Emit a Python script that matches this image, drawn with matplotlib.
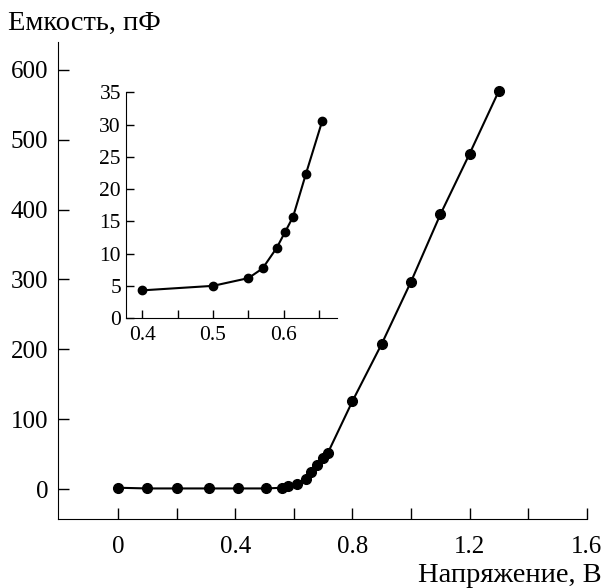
import numpy as np
import matplotlib.pyplot as plt

plt.rcParams['font.family'] = ['Liberation Serif', 'DejaVu Serif']

# main curve: voltage (V) vs capacitance (pF)
volt = [0.0, 0.1, 0.2, 0.31, 0.41, 0.505, 0.56, 0.58, 0.61, 0.64, 0.66, 0.68, 0.70, 0.715,
        0.8, 0.9, 1.0, 1.1, 1.2, 1.3]
cap = [2, 1, 1, 1, 1, 1, 2, 4, 8, 15, 24, 34, 44, 51,
       126, 208, 297, 393, 480, 570]

# inset: low-voltage region
volt_in = [0.4, 0.5, 0.55, 0.57, 0.59, 0.602, 0.613, 0.631, 0.654]
cap_in = [4.3, 5.0, 6.2, 7.7, 10.9, 13.4, 15.7, 22.3, 30.5]

fig = plt.figure(figsize=(6.05, 5.88), dpi=100)
ax = fig.add_axes([0.096, 0.117, 0.874, 0.812])
ax.plot(volt, cap, 'k-', lw=1.5, marker='o', ms=7)
ax.set_xlim(-0.205, 1.6)
ax.set_ylim(-43, 640)
ax.set_xticks([0, 0.4, 0.8, 1.2, 1.6])
ax.set_xticklabels(['0', '0.4', '0.8', '1.2', '1.6'])
ax.set_xticks([0.2, 0.6, 1.0, 1.4], minor=True)
ax.set_yticks([0, 100, 200, 300, 400, 500, 600])
for s in ['top', 'right']:
    ax.spines[s].set_visible(False)
ax.tick_params(direction='in', labelsize=18, length=8, width=1, pad=7)
ax.tick_params(axis='x', pad=12)
ax.tick_params(which='minor', direction='in', length=8, width=1)

fig.text(0.013, 0.961, 'Емкость, пФ', fontsize=20.5, va='center', ha='left')
fig.text(0.995, 0.022, 'Напряжение, В', fontsize=20.5, va='center', ha='right')

axi = fig.add_axes([0.208, 0.459, 0.349, 0.384])
axi.plot(volt_in, cap_in, 'k-', lw=1.5, marker='o', ms=6)
axi.set_xlim(0.377, 0.675)
axi.set_ylim(0, 35)
axi.set_xticks([0.4, 0.5, 0.6])
axi.set_xticklabels(['0.4', '0.5', '0.6'])
axi.set_xticks([0.45, 0.55, 0.65], minor=True)
axi.set_yticks(np.arange(0, 36, 5))
for s in ['top', 'right']:
    axi.spines[s].set_visible(False)
axi.patch.set_alpha(0)
axi.tick_params(direction='in', labelsize=15.5, length=6, width=1, pad=3.5)
axi.tick_params(axis='x', pad=6)
axi.tick_params(which='minor', direction='in', length=6, width=1)

fig.savefig('out.png', dpi=100)
